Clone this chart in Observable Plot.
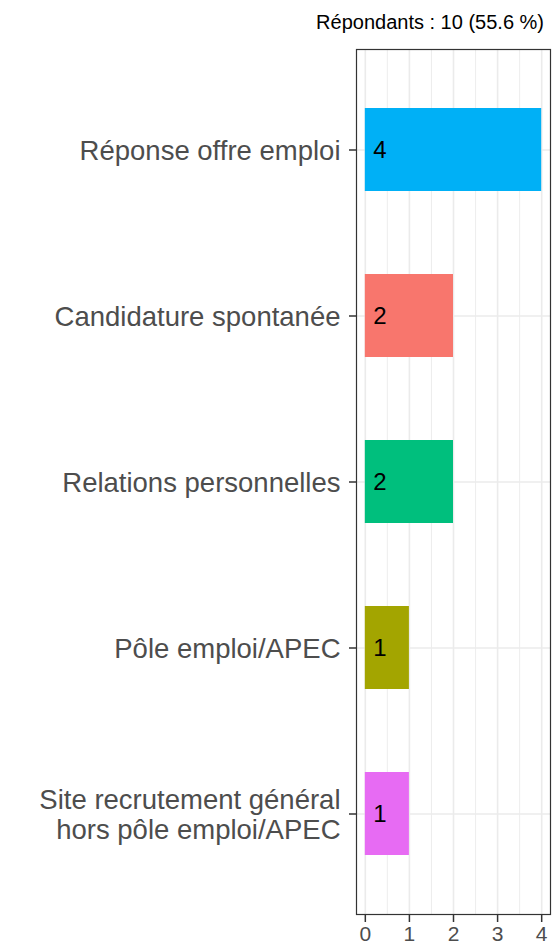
<!DOCTYPE html>
<html>
<head>
<meta charset="utf-8">
<script src="https://cdn.jsdelivr.net/npm/d3@7"></script>
<script src="https://cdn.jsdelivr.net/npm/@observablehq/plot@0.6"></script>
<style>
  body { margin: 0; background: #fff; font-family: "Liberation Sans", Arial, sans-serif; }
  #title { height: 40px; width: 554px; position: relative; }
  #title span { position: absolute; right: 10px; top: 10px; font-size: 20px; line-height: 24px; color: #000; }
</style>
</head>
<body>
<div id="title"><span>Répondants : 10 (55.6 %)</span></div>
<div id="chart"></div>
<script>
const categories = [
  "Réponse offre emploi",
  "Candidature spontanée",
  "Relations personnelles",
  "Pôle emploi/APEC",
  "Site recrutement général\nhors pôle emploi/APEC"
];
const values = [4, 2, 2, 1, 1];
const colors = ["#00B0F6", "#F8766D", "#00BF7D", "#A3A500", "#E76BF3"];
const majorTicks = [0, 1, 2, 3, 4];
const minorTicks = [0.5, 1.5, 2.5, 3.5];

const data = categories.map((c, i) => ({cat: c, value: values[i]}));

const chart = Plot.plot({
  width: 554,
  height: 907,
  marginLeft: 356,
  marginRight: 4,
  marginTop: 9,
  marginBottom: 33,
  style: {fontFamily: "'Liberation Sans', Arial, sans-serif", background: "white"},
  x: {domain: [-0.2, 4.2]},
  y: {type: "band", domain: categories, paddingInner: 0.5, paddingOuter: 0.35},
  color: {domain: categories, range: colors},
  marks: [
    Plot.ruleX(minorTicks, {stroke: "#EBEBEB", strokeWidth: 0.9}),
    Plot.ruleX(majorTicks, {stroke: "#EBEBEB", strokeWidth: 1.6}),
    Plot.gridY({stroke: "#EBEBEB", strokeOpacity: 1, strokeWidth: 1.6}),
    Plot.barX(data, {x: "value", y: "cat", fill: "cat"}),
    Plot.text(data, {x: 0, y: "cat", text: d => String(d.value), dx: 8, textAnchor: "start", fontSize: 24, fill: "black"}),
    Plot.axisX({ticks: majorTicks, tickFormat: "d", tickSize: 8, tickPadding: 4, fontSize: 21, label: null, stroke: "#333333", strokeWidth: 1.5, color: "#4D4D4D"}),
    Plot.axisY({tickSize: 7, tickPadding: 9, fontSize: 27.5, label: null, lineHeight: 1.1, stroke: "#333333", strokeWidth: 1.5, color: "#4D4D4D"}),
    Plot.frame({stroke: "#333333", strokeWidth: 1.2})
  ]
});
document.getElementById("chart").appendChild(chart);
</script>
</body>
</html>
